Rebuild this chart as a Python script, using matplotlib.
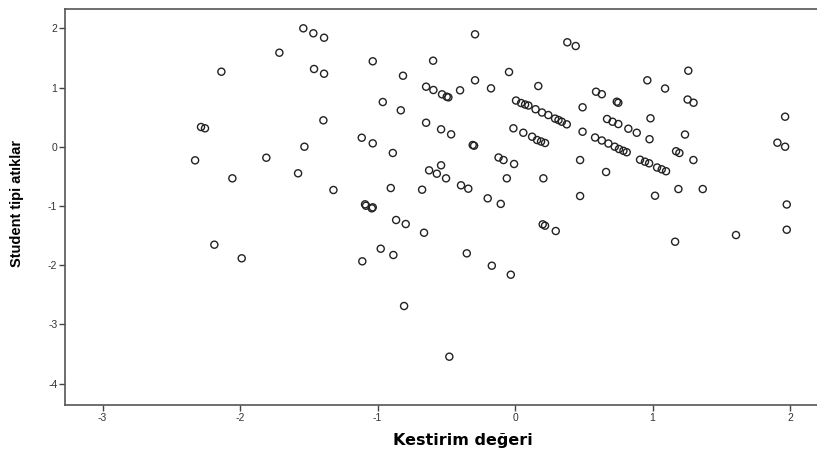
import matplotlib.pyplot as plt

plt.rcParams["axes.unicode_minus"] = False

# Predicted value (Kestirim degeri) vs studentized residual (Student tipi atiklar)
x_vals = [
    -1.540, -1.467, -1.389, -1.714, -2.136, -1.462, -1.389, -1.394, -2.284, -2.255,
    -1.532, -2.327, -1.809, -1.578, -2.056, -1.321, -0.291, 0.380, 0.441, -1.035,
    -0.596, -0.044, -0.815, -0.291, -0.647, -0.594, -0.531, -0.497, -0.485, -0.400,
    -0.175, 0.169, -0.962, -0.831, 0.007, 0.044, 0.073, 0.097, 0.149, 0.196,
    0.242, 0.291, 0.316, 0.340, 0.376, 0.491, -0.647, -0.538, -0.465, -0.012,
    0.060, 0.124, 0.160, 0.189, 0.218, 0.491, -1.115, -1.035, -0.308, -0.298,
    -0.889, -0.120, -0.084, -0.007, -0.538, -0.625, -0.569, -0.502, -0.060, 0.206,
    0.473, -0.904, -0.676, -0.393, -0.340, -0.199, -0.104, -1.091, -1.035, 0.473,
    1.260, 0.962, 1.091, 0.589, 0.631, 0.740, 0.751, 1.255, 1.298, 1.964,
    0.985, 0.669, 0.709, 0.751, 0.824, 0.885, 0.582, 0.631, 0.679, 0.725,
    0.756, 0.788, 0.812, 0.978, 1.236, 1.908, 1.964, 1.171, 1.195, 0.909,
    0.945, 0.975, 1.033, 1.067, 1.098, 1.297, 0.662, 1.188, 1.365, 1.018,
    1.976, -1.084, -1.042, -0.865, -0.795, -0.662, -2.187, -1.988, -0.977, -0.885,
    -1.111, -0.807, 0.201, 0.218, 0.296, 1.164, 1.607, 1.976, -0.351, -0.169,
    -0.031, -0.478,
]
y_vals = [
    2.000, 1.916, 1.841, 1.588, 1.267, 1.313, 1.233, 0.446, 0.333, 0.311,
    0.000, -0.230, -0.186, -0.449, -0.534, -0.731, 1.899, 1.764, 1.701, 1.443,
    1.453, 1.262, 1.199, 1.122, 1.014, 0.958, 0.885, 0.845, 0.834, 0.953,
    0.986, 1.025, 0.755, 0.615, 0.780, 0.738, 0.713, 0.696, 0.633, 0.578,
    0.535, 0.475, 0.451, 0.422, 0.378, 0.666, 0.405, 0.294, 0.209, 0.311,
    0.236, 0.169, 0.113, 0.088, 0.063, 0.253, 0.152, 0.057, 0.029, 0.017,
    -0.106, -0.182, -0.225, -0.292, -0.314, -0.399, -0.456, -0.534, -0.534, -0.534,
    -0.225, -0.698, -0.726, -0.652, -0.709, -0.872, -0.966, -0.973, -1.024, -0.833,
    1.284, 1.122, 0.983, 0.929, 0.887, 0.760, 0.743, 0.797, 0.743, 0.507,
    0.480, 0.468, 0.422, 0.383, 0.304, 0.236, 0.155, 0.105, 0.054, 0.000,
    -0.039, -0.069, -0.093, 0.127, 0.206, 0.068, 0.000, -0.076, -0.106, -0.220,
    -0.253, -0.280, -0.351, -0.382, -0.414, -0.225, -0.427, -0.715, -0.715, -0.828,
    -0.976, -0.997, -1.041, -1.238, -1.306, -1.453, -1.655, -1.885, -1.723, -1.829,
    -1.936, -2.691, -1.311, -1.334, -1.424, -1.605, -1.492, -1.402, -1.801, -2.010,
    -2.162, -3.547,
]

x_ticks = [-3, -2, -1, 0, 1, 2]
y_ticks = [-4, -3, -2, -1, 0, 1, 2]

fig = plt.figure(figsize=(8.17, 4.5), dpi=100)
ax = fig.add_axes([0.0796, 0.1, 0.9204, 0.881])

ax.scatter(x_vals, y_vals, s=26, facecolors="none", edgecolors="#222222", linewidths=1.0)

ax.set_xlim(-3.273, 2.196)
ax.set_ylim(-4.363, 2.334)
ax.set_xticks(x_ticks)
ax.set_yticks(y_ticks)
ax.tick_params(direction="out", length=4, width=1, pad=1.5, colors="#444444",
               labelsize=7.5, labelcolor="#333333")
for lbl in ax.get_xticklabels() + ax.get_yticklabels():
    lbl.set_family(["Liberation Sans", "DejaVu Sans"])

for side in ["left", "bottom", "top"]:
    ax.spines[side].set_color("#555555")
    ax.spines[side].set_linewidth(1.2)
ax.spines["right"].set_visible(False)

# x label placed on the figure so its baseline sits near the bottom edge
fig.text(0.567, 0.011, "Kestirim değeri", fontsize=11.5, fontweight="bold",
         family="DejaVu Sans", ha="center", va="baseline")
ax.set_ylabel("Student tipi atıklar", fontsize=10.5, fontweight="bold",
              family=["Liberation Sans Narrow", "Liberation Sans", "DejaVu Sans"])
ax.yaxis.set_label_coords(-0.055, 0.509)

fig.savefig("out.png", dpi=100)
